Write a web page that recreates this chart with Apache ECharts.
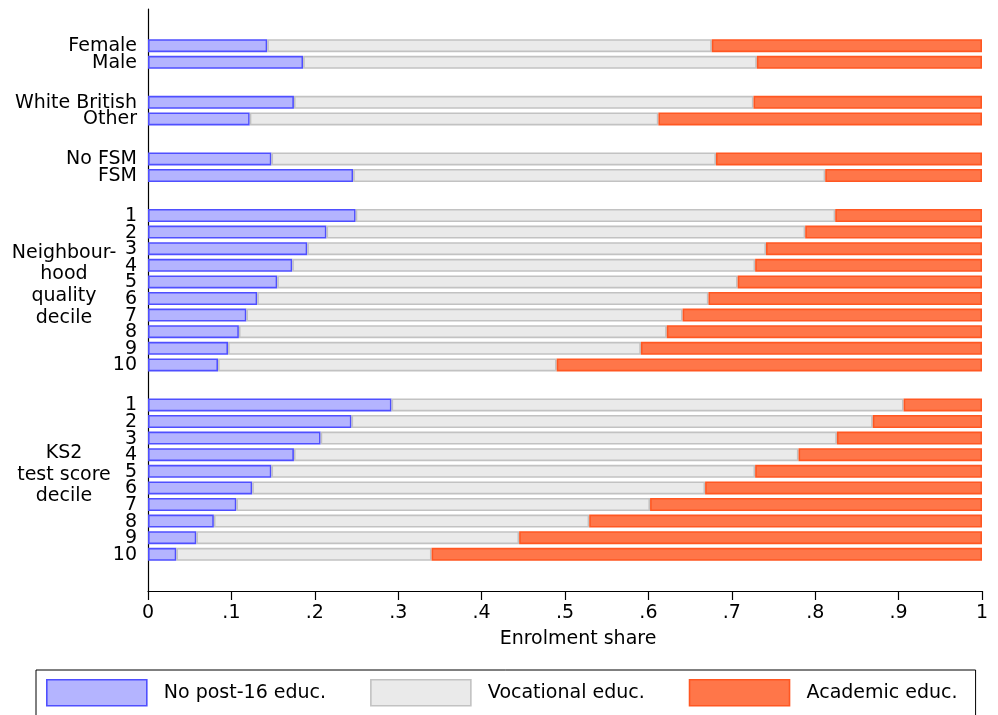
<!DOCTYPE html>
<html><head><meta charset="utf-8">
<script src="https://cdn.jsdelivr.net/npm/echarts@6/dist/echarts.min.js"></script>
<style>html,body{margin:0;padding:0;background:#fff}#c{width:998px;height:715px}</style>
</head><body><div id="c"></div><script>
// ---- data ----
const groupLabels = ['', '', '', 'Neighbour-\nhood\nquality\ndecile', 'KS2\ntest score\ndecile'];
const groupRows = [
  ['Female', 'Male'],
  ['White British', 'Other'],
  ['No FSM', 'FSM'],
  ['1', '2', '3', '4', '5', '6', '7', '8', '9', '10'],
  ['1', '2', '3', '4', '5', '6', '7', '8', '9', '10']
];
const seriesNames = ['No post-16 educ.', 'Vocational educ.', 'Academic educ.'];
const noPost16 = [0.143, 0.186, 0.175, 0.122, 0.148, 0.246,
  0.249, 0.214, 0.191, 0.173, 0.155, 0.131, 0.118, 0.109, 0.096, 0.084,
  0.292, 0.244, 0.207, 0.175, 0.148, 0.125, 0.106, 0.079, 0.058, 0.034];
const vocational = [0.533, 0.544, 0.551, 0.490, 0.533, 0.566,
  0.575, 0.574, 0.550, 0.555, 0.552, 0.541, 0.523, 0.513, 0.495, 0.406,
  0.614, 0.625, 0.619, 0.605, 0.580, 0.543, 0.496, 0.450, 0.387, 0.306];
const academic = [0.324, 0.270, 0.274, 0.388, 0.319, 0.188,
  0.176, 0.212, 0.259, 0.272, 0.293, 0.328, 0.359, 0.378, 0.409, 0.510,
  0.094, 0.131, 0.174, 0.220, 0.272, 0.332, 0.398, 0.471, 0.555, 0.660];
const xTickLabels = ['0', '.1', '.2', '.3', '.4', '.5', '.6', '.7', '.8', '.9', '1'];

// ---- layout (row slots on the y scale) ----
const firstSlot = 2.21, groupGap = 2.41, slotMax = 35.06;
const rowNames = [], rowPos = [], groupMid = [];
let p = firstSlot;
groupRows.forEach((rows, gi) => {
  const start = p;
  rows.forEach((r, ri) => { rowNames.push(r); rowPos.push(p); if (ri < rows.length - 1) p += 1; });
  groupMid.push((start + p) / 2);
  p += groupGap;
});

const shares = [noPost16, vocational, academic];
const fills = ['#b4b4ff', '#eaeaea', '#ff7649'];
const strokes = ['#4f4fff', '#c2c2c2', '#ff5722'];
const FONT = 'DejaVu Sans';

function barData(k) {
  return rowNames.map((n, i) => {
    let s = 0;
    for (let j = 0; j < k; j++) s += shares[j][i];
    return [s, s + shares[k][i], rowPos[i], i];
  });
}
function makeRender(k) {
  return function (params, api) {
    const a = api.value(0), b = api.value(1), y = api.value(2);
    const p0 = api.coord([a, y]), p1 = api.coord([b, y]);
    const h = 11.4, lw = 1.6;
    return {
      type: 'rect',
      shape: { x: p0[0] + lw / 2, y: p0[1] - h / 2, width: p1[0] - p0[0] - lw, height: h },
      style: { fill: fills[k], stroke: strokes[k], lineWidth: lw }
    };
  };
}

const series = seriesNames.map((name, k) => ({
  type: 'custom', name: name, data: barData(k), renderItem: makeRender(k),
  encode: { x: [0, 1], y: 2 },
  itemStyle: { color: fills[k], borderColor: strokes[k], borderWidth: 1.6 },
  silent: true
}));

// row labels
series.push({
  type: 'custom', name: 'rowLabels', silent: true,
  data: rowNames.map((n, i) => [0, rowPos[i], i]),
  encode: { x: 0, y: 1 },
  renderItem: function (params, api) {
    const pt = api.coord([api.value(0), api.value(1)]);
    return {
      type: 'text',
      style: { x: pt[0] - 11, y: pt[1] + 0.5, text: rowNames[api.value(2)], align: 'right', verticalAlign: 'middle',
        font: '19px "' + FONT + '"', fill: '#000' }
    };
  }
});
// group labels
series.push({
  type: 'custom', name: 'groupLabels', silent: true,
  data: groupLabels.map((g, gi) => [0, groupMid[gi], gi]).filter(d => groupLabels[d[2]] !== ''),
  encode: { x: 0, y: 1 },
  renderItem: function (params, api) {
    const pt = api.coord([api.value(0), api.value(1)]);
    return {
      type: 'text',
      style: { x: pt[0] - 84, y: pt[1] - 5, text: groupLabels[api.value(2)], align: 'center', verticalAlign: 'middle',
        font: '19px "' + FONT + '"', lineHeight: 21.6, fill: '#000' }
    };
  }
});

const chart = echarts.init(document.getElementById('c'), null, { renderer: 'canvas' });
chart.setOption({
  animation: false,
  backgroundColor: '#fff',
  textStyle: { fontFamily: FONT },
  grid: { left: 148, right: 16, top: 9, bottom: 124, containLabel: false },
  xAxis: {
    type: 'value', min: 0, max: 1, interval: 0.1, position: 'bottom',
    axisLine: { show: true, onZero: false, lineStyle: { color: '#000', width: 1.2 } },
    axisTick: { show: true, length: 9, lineStyle: { color: '#000', width: 1.2 } },
    axisLabel: { color: '#000', fontSize: 19, fontFamily: FONT, margin: 13,
      formatter: v => xTickLabels[Math.round(v * 10)] },
    splitLine: { show: false },
    name: 'Enrolment share', nameLocation: 'middle', nameGap: 39,
    nameTextStyle: { color: '#000', fontSize: 19, fontFamily: FONT, padding: [0, 0, 0, 26] }
  },
  yAxis: {
    type: 'value', inverse: true, min: 0, max: slotMax, position: 'left',
    axisLine: { show: true, onZero: false, lineStyle: { color: '#000', width: 1.2 } },
    axisTick: { show: false }, axisLabel: { show: false }, splitLine: { show: false }
  },
  legend: {
    left: 36, top: 670, orient: 'horizontal',
    padding: [9, 18, 10, 10],
    itemWidth: 100, itemHeight: 26, itemGap: 44,
    borderColor: '#000', borderWidth: 1, borderRadius: 0, backgroundColor: '#fff',
    icon: 'rect',
    textStyle: { color: '#000', fontSize: 19, fontFamily: FONT, padding: [0, 0, 0, 12] },
    data: seriesNames.map((n, k) => ({ name: n, icon: 'rect',
      itemStyle: { color: fills[k], borderColor: strokes[k], borderWidth: 1.6 } })),
    selectedMode: false
  },
  series: series
});
</script></body></html>
